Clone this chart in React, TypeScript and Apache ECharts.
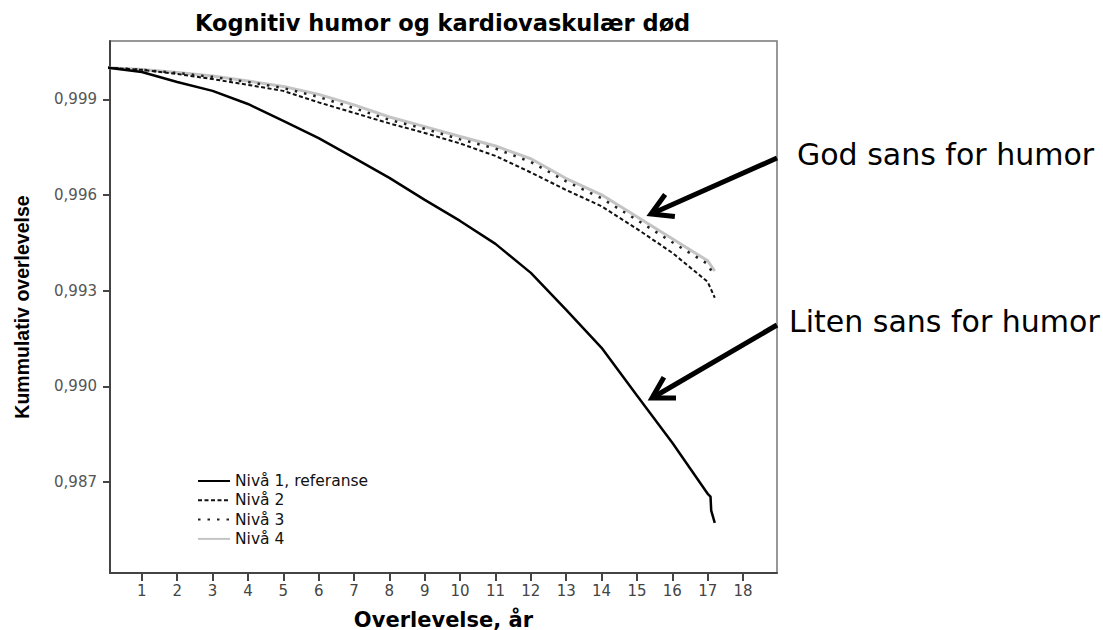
import React, { useEffect, useRef } from "react";
import * as echarts from "echarts";

// ---- data ----
const titleText = "Kognitiv humor og kardiovaskulær død";
const xAxisName = "Overlevelse, år";
const yAxisName = "Kummulativ overlevelse";
const seriesNames = ["Nivå 1, referanse", "Nivå 2", "Nivå 3", "Nivå 4"];

const years = [0, 1, 2, 3, 4, 5, 6, 7, 8, 9, 10, 11, 12, 13, 14, 15, 16, 17];
const xTicks = [1, 2, 3, 4, 5, 6, 7, 8, 9, 10, 11, 12, 13, 14, 15, 16, 17, 18];
const yTicks = [0.987, 0.99, 0.993, 0.996, 0.999];

const niva1Years = [...years, 17.08, 17.1, 17.2];
const niva1 = [
  1.0, 0.99986, 0.99955, 0.99927, 0.99886, 0.99833, 0.99779, 0.99717, 0.99654, 0.99585,
  0.99519, 0.99447, 0.99356, 0.9924, 0.99121, 0.98971, 0.98823, 0.98663, 0.98654, 0.9861, 0.98572,
];
const niva2Years = [...years, 17.2];
const niva2 = [
  1.0, 0.99993, 0.9998, 0.99964, 0.99946, 0.99927, 0.99891, 0.99858, 0.99825, 0.99795,
  0.99762, 0.99723, 0.99671, 0.99616, 0.99565, 0.99494, 0.99419, 0.99328, 0.99278,
];
const niva3Years = [...years, 17.15];
const niva3 = [
  1.0, 0.99993, 0.99983, 0.99971, 0.99955, 0.99936, 0.99908, 0.99873, 0.99836, 0.99808,
  0.99775, 0.99746, 0.99704, 0.99643, 0.9959, 0.99522, 0.99452, 0.99384, 0.99353,
];
const niva4Years = [...years, 17.2];
const niva4 = [
  1.0, 0.99994, 0.99985, 0.99974, 0.99958, 0.99941, 0.99916, 0.99883, 0.99845, 0.99815,
  0.99784, 0.99754, 0.99714, 0.99652, 0.99601, 0.99532, 0.99463, 0.99394, 0.99362,
];

const annotations = ["God sans for humor", "Liten sans for humor"];

// ---- helpers ----
const pairs = (xs: number[], ys: number[]) => xs.map((x, i) => [x, ys[i]]);
const FONT = "DejaVu Sans";

function arrow(tail: number[], tip: number[]) {
  const ang = Math.atan2(tail[1] - tip[1], tail[0] - tip[0]);
  const len = 24;
  const spread = (30 * Math.PI) / 180;
  const b1 = [tip[0] + len * Math.cos(ang - spread), tip[1] + len * Math.sin(ang - spread)];
  const b2 = [tip[0] + len * Math.cos(ang + spread), tip[1] + len * Math.sin(ang + spread)];
  return [
    {
      type: "line",
      shape: { x1: tail[0], y1: tail[1], x2: tip[0] + 2 * Math.cos(ang), y2: tip[1] + 2 * Math.sin(ang) },
      style: { stroke: "#000", lineWidth: 5 },
      z: 100,
    },
    {
      type: "polyline",
      shape: { points: [b1, tip, b2] },
      style: { stroke: "#000", lineWidth: 5, fill: "none", lineJoin: "miter" },
      z: 100,
    },
  ];
}

export default function App() {
  const ref = useRef<HTMLDivElement>(null);
  useEffect(() => {
    const chart = echarts.init(ref.current!, null, { renderer: "svg" });
    const option: any = {
      animation: false,
      backgroundColor: "#fff",
      title: {
        text: titleText,
        left: 195,
        top: 11,
        padding: 0,
        textStyle: { fontFamily: FONT, fontWeight: "bold", fontSize: 22.5, color: "#000" },
      },
      legend: {
        data: seriesNames,
        orient: "vertical",
        left: 197,
        top: 473,
        padding: 0,
        itemWidth: 32,
        itemHeight: 14,
        itemGap: 3.3,
        selectedMode: false,
        itemStyle: { opacity: 0 },
        textStyle: { fontFamily: FONT, fontSize: 15.5, color: "#111" },
      },
      grid: {
        left: 110,
        top: 41,
        right: 1103 - 777,
        bottom: 630 - 573,
        show: true,
        borderColor: "#777",
        borderWidth: 1.5,
        backgroundColor: "#fff",
        outerBoundsMode: "none",
      },
      xAxis: {
        type: "value",
        min: 0.1,
        max: 18.96,
        name: xAxisName,
        nameLocation: "middle",
        nameGap: 36,
        nameTextStyle: { fontFamily: FONT, fontWeight: "bold", fontSize: 21, color: "#000" },
        axisLine: { show: true, onZero: false, lineStyle: { color: "#444", width: 2 } },
        axisTick: { show: true, customValues: xTicks, length: 8, lineStyle: { color: "#444", width: 2 } },
        axisLabel: {
          customValues: xTicks,
          margin: 10,
          fontFamily: FONT,
          fontSize: 15,
          color: "#444",
          formatter: (v: number) => String(v),
        },
        splitLine: { show: false },
      },
      yAxis: {
        type: "value",
        min: 0.984145,
        max: 1.000835,
        name: yAxisName,
        nameLocation: "middle",
        nameGap: 78,
        nameTextStyle: { fontFamily: "Liberation Sans", fontWeight: "bold", fontSize: 19.5, color: "#000" },
        axisLine: { show: true, onZero: false, lineStyle: { color: "#444", width: 2 } },
        axisTick: { show: true, customValues: yTicks, length: 7, lineStyle: { color: "#444", width: 2 } },
        axisLabel: {
          customValues: yTicks,
          margin: 13,
          fontFamily: FONT,
          fontSize: 15,
          color: "#555",
          formatter: (v: number) => v.toFixed(3).replace(".", ","),
        },
        splitLine: { show: false },
      },
      series: [
        {
          name: seriesNames[3],
          type: "line",
          symbol: "none",
          data: pairs(niva4Years, niva4),
          lineStyle: { color: "#c4c4c4", width: 3, type: "solid" },
          itemStyle: { color: "#c4c4c4" },
          z: 2,
        },
        {
          name: seriesNames[2],
          type: "line",
          symbol: "none",
          data: pairs(niva3Years, niva3),
          lineStyle: { color: "#222", width: 2.5, type: [2.5, 7] },
          itemStyle: { color: "#222" },
          z: 3,
        },
        {
          name: seriesNames[1],
          type: "line",
          symbol: "none",
          data: pairs(niva2Years, niva2),
          lineStyle: { color: "#111", width: 2, type: [4, 2.5] },
          itemStyle: { color: "#111" },
          z: 4,
        },
        {
          name: seriesNames[0],
          type: "line",
          symbol: "none",
          data: pairs(niva1Years, niva1),
          lineStyle: { color: "#000", width: 2.5, type: "solid" },
          itemStyle: { color: "#000" },
          z: 5,
        },
      ],
      graphic: [
        ...arrow([777, 158], [651, 214]),
        ...arrow([777, 325], [652, 398]),
        {
          type: "text",
          left: 797,
          top: 139,
          style: { text: annotations[0], fontFamily: FONT, fontSize: 30, fill: "#000" },
          z: 100,
        },
        {
          type: "text",
          left: 789,
          top: 306,
          style: { text: annotations[1], fontFamily: FONT, fontSize: 30, fill: "#000" },
          z: 100,
        },
      ],
    };
    chart.setOption(option);
    return () => chart.dispose();
  }, []);
  return (
    <div
      ref={ref}
      style={{ position: "absolute", left: 0, top: 0, width: 1103, height: 630, background: "#fff" }}
    />
  );
}
